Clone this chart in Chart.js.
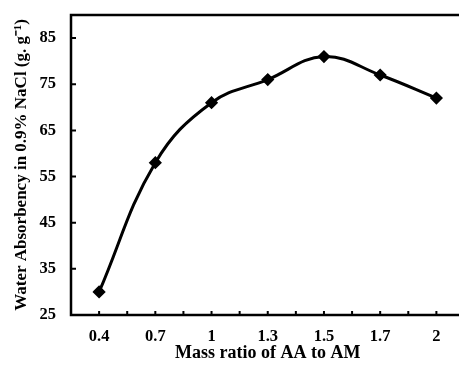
<!DOCTYPE html>
<html>
<head>
<meta charset="utf-8">
<script src="https://cdn.jsdelivr.net/npm/chart.js@4.4.1/dist/chart.umd.min.js"></script>
<style>
  html, body { margin: 0; padding: 0; background: #fff; overflow: hidden; }
  #wrap { width: 472px; height: 369px; }
</style>
</head>
<body>
<div id="wrap"><canvas id="chart" width="472" height="369"></canvas></div>
<script>
// Data
const massRatios = ['0.4', '0.7', '1', '1.3', '1.5', '1.7', '2'];
const absorbency = [30, 58, 71, 76, 81, 77, 72];
const yTicks = [25, 35, 45, 55, 65, 75, 85];

const FONT = "'Liberation Serif', 'Times New Roman', serif";

// frame + inside tick marks, placed through the scales
const framePlugin = {
  id: 'frame',
  afterDraw(chart) {
    const { ctx, chartArea: a, scales } = chart;
    ctx.save();
    ctx.strokeStyle = '#000';
    ctx.lineWidth = 2.5;
    ctx.strokeRect(a.left, a.top, a.right - a.left, a.bottom - a.top);

    ctx.lineWidth = 2;
    ctx.beginPath();
    yTicks.forEach(v => {
      const y = scales.y.getPixelForValue(v);
      ctx.moveTo(a.left, y);
      ctx.lineTo(a.left + 5, y);
    });
    const xs = massRatios.map((_, i) => scales.x.getPixelForValue(i));
    xs.forEach((x, i) => {
      ctx.moveTo(x, a.bottom);
      ctx.lineTo(x, a.bottom - 4);
      if (i < xs.length - 1) {
        const m = (x + xs[i + 1]) / 2;
        ctx.moveTo(m, a.bottom);
        ctx.lineTo(m, a.bottom - 4);
      }
    });
    ctx.stroke();
    ctx.restore();
  }
};

new Chart(document.getElementById('chart').getContext('2d'), {
  type: 'line',
  data: {
    labels: massRatios,
    datasets: [{
      data: absorbency,
      borderColor: '#000',
      backgroundColor: '#000',
      borderWidth: 3,
      tension: 0.4,
      pointStyle: 'rectRot',
      pointRadius: 4.5,
      pointBackgroundColor: '#000',
      pointBorderColor: '#000',
      fill: false,
    }],
  },
  options: {
    responsive: false,
    animation: false,
    layout: { padding: { top: 15, left: 11, right: 7, bottom: 0 } },
    plugins: {
      legend: { display: false },
      tooltip: { enabled: false },
    },
    scales: {
      x: {
        type: 'category',
        offset: true,
        afterFit: s => { s.height = 54; s.paddingLeft = 0; s.paddingRight = 0; },
        grid: { display: false, drawTicks: false },
        border: { display: false },
        ticks: {
          color: '#000',
          padding: 12,
          font: { family: FONT, size: 16.5, weight: 'bold' },
        },
        title: {
          display: true,
          text: 'Mass ratio of AA to AM',
          color: '#000',
          padding: { top: 0, bottom: 5 },
          font: { family: FONT, size: 18, weight: 'bold' },
        },
      },
      y: {
        min: 25,
        max: 90,
        afterBuildTicks: scale => { scale.ticks = yTicks.map(v => ({ value: v })); },
        afterFit: s => { s.width = 60; s.paddingTop = 0; s.paddingBottom = 0; },
        grid: { display: false, drawTicks: false },
        border: { display: false },
        ticks: {
          color: '#000',
          padding: 15,
          font: { family: FONT, size: 16.5, weight: 'bold' },
        },
        title: {
          display: true,
          text: 'Water Absorbency in 0.9% NaCl (g. g\u207B\u00B9)',
          color: '#000',
          padding: { top: 0, bottom: 0 },
          font: { family: FONT, size: 17, weight: 'bold' },
        },
      },
    },
  },
  plugins: [framePlugin],
});
</script>
</body>
</html>
